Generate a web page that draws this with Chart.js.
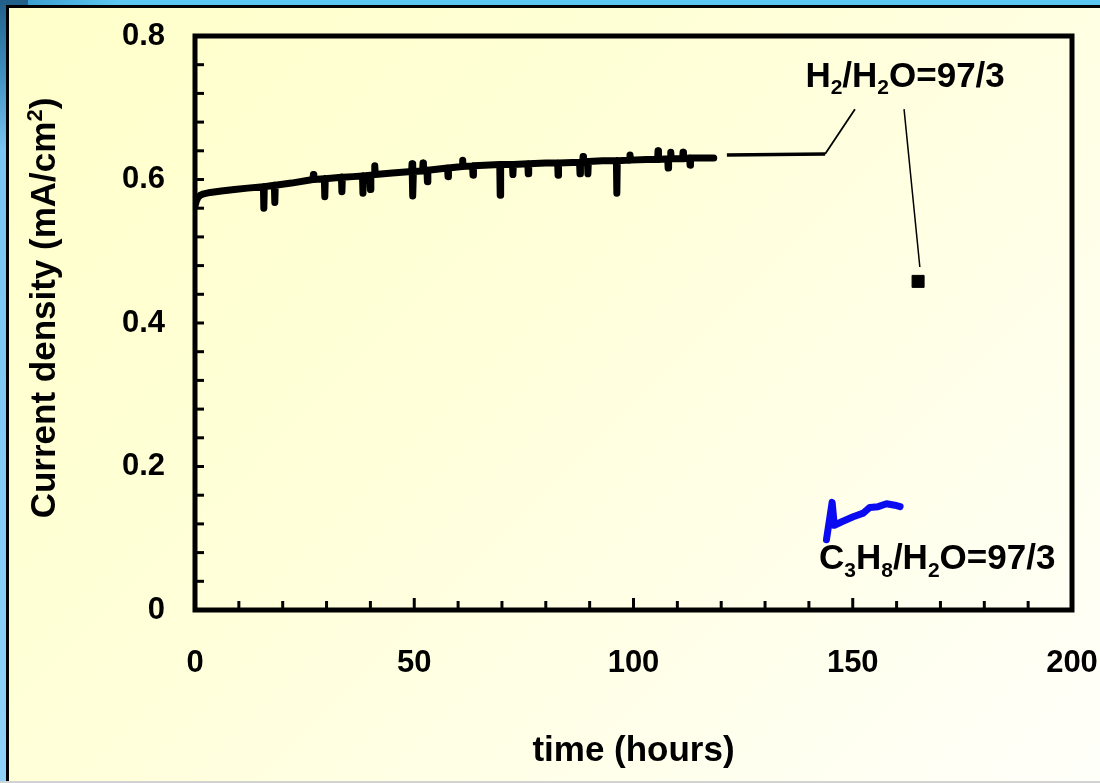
<!DOCTYPE html>
<html>
<head>
<meta charset="utf-8">
<title>Current density vs time</title>
<script src="https://cdn.jsdelivr.net/npm/chart.js@4.4.1/dist/chart.umd.min.js"></script>
<style>
  html, body { margin: 0; padding: 0; }
  body {
    width: 1100px; height: 783px; overflow: hidden; position: relative;
    background: linear-gradient(to bottom, #215f88 0px, #3d8dbd 70px, #79c4f1 150px, #8ed1fb 783px);
  }
  #topband {
    position: absolute; left: 28px; top: 0; width: 1072px; height: 6px;
    background: linear-gradient(to right, #3c9fd2 0px, #5cc7f1 90px, #5cc7f1 100%);
  }
  #slide {
    position: absolute; left: 6px; top: 5px; right: 0; bottom: 2px;
    border-left: 3px solid #000; border-top: 3px solid #000;
    background: linear-gradient(135deg, #ffffca 0%, #ffffd8 40%, #ffffec 75%, #fffffa 100%);
  }
  #bottomline { position: absolute; left: 0; bottom: 0; width: 1100px; height: 2px; background: #d2d2d2; }
  canvas { position: absolute; left: 0; top: 0; }
</style>
</head>
<body>
<div id="topband"></div>
<div id="slide"></div>
<div id="bottomline"></div>
<canvas id="chart" width="1100" height="783"></canvas>
<script>
// ---- Data -----------------------------------------------------------------
// Anode fed with H2/H2O = 97/3 (time in hours, current density in mA/cm2)
const h2Time = [
  0, 0.3, 0.7, 1.2, 2, 3.5, 6, 9, 12,
  15.6, 15.7, 15.8, 18.1, 18.2, 18.3, 22,
  26.9, 27.0, 27.1, 29.5, 29.6, 29.7, 33.4, 33.5, 33.6, 36,
  38.2, 38.3, 38.4, 39.9, 40.0, 40.1, 40.9, 41.0, 41.1, 45,
  49.4, 49.5, 49.6, 49.7, 49.8, 51.9, 52.0, 52.1, 52.9, 53.0, 53.1,
  57.6, 57.7, 57.8, 60.9, 61.0, 61.1, 63.3, 63.4, 63.5, 66,
  69.5, 69.6, 69.7, 72.4, 72.5, 72.6, 75.9, 76.0, 76.1, 80,
  82.7, 82.8, 82.9, 87.7, 87.8, 87.9, 88.4, 88.5, 88.6, 89.5, 89.6, 89.7, 93,
  96.1, 96.2, 96.3, 99.1, 99.2, 99.3, 103,
  105.5, 105.6, 105.7, 107.8, 107.9, 108.0, 108.4, 108.5, 108.6,
  111.2, 111.3, 111.4, 112.8, 112.9, 113.0, 116, 118.3
];
const h2Current = [
  0.563, 0.570, 0.575, 0.578, 0.580, 0.582, 0.584, 0.586, 0.588,
  0.590, 0.560, 0.590, 0.592, 0.568, 0.592, 0.595,
  0.600, 0.607, 0.600, 0.601, 0.576, 0.601, 0.603, 0.583, 0.603, 0.604,
  0.605, 0.581, 0.605, 0.606, 0.586, 0.606, 0.607, 0.619, 0.607, 0.609,
  0.611, 0.622, 0.611, 0.577, 0.611, 0.612, 0.623, 0.612, 0.613, 0.597, 0.613,
  0.616, 0.604, 0.616, 0.618, 0.627, 0.618, 0.619, 0.606, 0.619, 0.620,
  0.621, 0.578, 0.621, 0.621, 0.607, 0.621, 0.622, 0.608, 0.622, 0.623,
  0.623, 0.606, 0.623, 0.624, 0.608, 0.624, 0.624, 0.632, 0.624, 0.625, 0.608, 0.625, 0.626,
  0.626, 0.581, 0.626, 0.627, 0.634, 0.627, 0.628,
  0.628, 0.640, 0.628, 0.629, 0.616, 0.629, 0.629, 0.638, 0.629,
  0.629, 0.638, 0.629, 0.630, 0.620, 0.630, 0.630, 0.630
];

// Anode fed with C3H8/H2O = 97/3
const c3h8Time    = [144.0, 145.3, 145.8, 147.5, 150.1, 152.4, 153.9, 155.8, 157.7, 159.6, 160.8];
const c3h8Current = [0.098, 0.150, 0.118, 0.123, 0.130, 0.135, 0.143, 0.144, 0.148, 0.146, 0.144];

// Single marked point
const markTime    = [164.9];
const markCurrent = [0.458];

// Leader lines from the labels
const leaderOneTime    = [121.3, 143.7];
const leaderOneCurrent = [0.634, 0.6355];
const leaderTwoTime    = [143.7, 150.5];
const leaderTwoCurrent = [0.6355, 0.698];
const leaderThreeTime    = [161.7, 165.3];
const leaderThreeCurrent = [0.698, 0.478];

// Axis ticks
const xTickValues = [0, 50, 100, 150, 200];
const yTickValues = [0, 0.2, 0.4, 0.6, 0.8];
const xMinorStep = 10;
const yMinorStep = 0.04;

// Series labels (main text with subscripts)
const h2LabelParts   = [['H'], ['2', 'sub'], ['/H'], ['2', 'sub'], ['O=97/3']];
const c3h8LabelParts = [['C'], ['3', 'sub'], ['H'], ['8', 'sub'], ['/H'], ['2', 'sub'], ['O=97/3']];
const yTitleParts    = [['Current density (mA/cm'], ['2', 'sup'], [')']];
const xTitleText     = 'time (hours)';

// ---- Helpers ----------------------------------------------------------------
const SANS = '"Liberation Sans", Arial, sans-serif';
const toPoints = (xs, ys) => xs.map((x, i) => ({ x: x, y: ys[i] }));

function richFont(kind, size) {
  if (kind === 'sub') return 'bold ' + Math.round(size * 0.6) + 'px ' + SANS;
  if (kind === 'sup') return 'bold ' + Math.round(size * 0.64) + 'px ' + SANS;
  return 'bold ' + size + 'px ' + SANS;
}
function richWidth(ctx, parts, size) {
  let w = 0;
  parts.forEach(p => { ctx.font = richFont(p[1], size); w += ctx.measureText(p[0]).width; });
  return w;
}
function drawRich(ctx, parts, x, y, size) {
  let cx = x;
  ctx.textBaseline = 'alphabetic';
  ctx.textAlign = 'left';
  parts.forEach(p => {
    ctx.font = richFont(p[1], size);
    let dy = 0;
    if (p[1] === 'sub') dy = size * 0.21;
    if (p[1] === 'sup') dy = -size * 0.36;
    ctx.fillText(p[0], cx, y + dy);
    cx += ctx.measureText(p[0]).width;
  });
}

// Box around the plot, inward tick marks, series labels and the y title
const chartDecor = {
  id: 'chartDecor',
  afterDraw(chart) {
    const { ctx, chartArea: a, scales: { x, y } } = chart;
    ctx.save();
    ctx.strokeStyle = '#000';
    ctx.fillStyle = '#000';
    ctx.lineCap = 'butt';
    ctx.lineWidth = 3;

    const nx = Math.round((x.max - x.min) / xMinorStep);
    for (let i = 0; i <= nx; i++) {
      const v = x.min + i * xMinorStep;
      const px = x.getPixelForValue(v);
      const len = xTickValues.some(t => Math.abs(t - v) < 1e-9) ? 12 : 9;
      ctx.beginPath(); ctx.moveTo(px, a.bottom); ctx.lineTo(px, a.bottom - len); ctx.stroke();
    }
    const ny = Math.round((y.max - y.min) / yMinorStep);
    for (let i = 0; i <= ny; i++) {
      const v = y.min + i * yMinorStep;
      const py = y.getPixelForValue(v);
      ctx.beginPath(); ctx.moveTo(a.left, py); ctx.lineTo(a.left + 9, py); ctx.stroke();
    }

    ctx.lineWidth = 5;
    ctx.strokeRect(a.left, a.top, a.right - a.left, a.bottom - a.top);

    // series labels
    drawRich(ctx, h2LabelParts, x.getPixelForValue(139.2), y.getPixelForValue(0.7293), 35);
    drawRich(ctx, c3h8LabelParts, x.getPixelForValue(142.3), y.getPixelForValue(0.0567), 35);

    // y-axis title, rotated
    const size = 35;
    const w = richWidth(ctx, yTitleParts, size);
    ctx.translate(42, (a.top + a.bottom) / 2 - 15);
    ctx.rotate(-Math.PI / 2);
    drawRich(ctx, yTitleParts, -w / 2, 13, size);
    ctx.restore();
  }
};

// ---- Chart ------------------------------------------------------------------
const lineStyle = { pointRadius: 0, tension: 0, borderJoinStyle: 'round', borderCapStyle: 'round', fill: false };
const tickFont = { family: SANS, weight: 'bold', size: 31 };

new Chart(document.getElementById('chart'), {
  type: 'line',
  data: {
    datasets: [
      Object.assign({ label: 'H2/H2O=97/3', data: toPoints(h2Time, h2Current), borderColor: '#000', borderWidth: 7 }, lineStyle),
      Object.assign({ label: 'C3H8/H2O=97/3', data: toPoints(c3h8Time, c3h8Current), borderColor: '#0b0bf2', borderWidth: 7 }, lineStyle),
      Object.assign({ label: 'leader 1', data: toPoints(leaderOneTime, leaderOneCurrent), borderColor: '#000', borderWidth: 3.5 }, lineStyle, { borderCapStyle: 'butt' }),
      Object.assign({ label: 'leader 2', data: toPoints(leaderTwoTime, leaderTwoCurrent), borderColor: '#000', borderWidth: 1.8 }, lineStyle, { borderCapStyle: 'butt' }),
      Object.assign({ label: 'leader 3', data: toPoints(leaderThreeTime, leaderThreeCurrent), borderColor: '#000', borderWidth: 1.5 }, lineStyle, { borderCapStyle: 'butt' }),
      {
        type: 'scatter', label: 'point', data: toPoints(markTime, markCurrent),
        pointStyle: 'rect', pointRadius: 8.5, backgroundColor: '#000', borderColor: '#000', borderWidth: 1
      }
    ]
  },
  options: {
    responsive: false,
    animation: false,
    devicePixelRatio: 1,
    layout: { padding: { left: 0, right: 28, top: 36, bottom: 0 } },
    plugins: { legend: { display: false }, tooltip: { enabled: false } },
    scales: {
      x: {
        type: 'linear', min: 0, max: 200,
        afterBuildTicks(s) { s.ticks = xTickValues.map(v => ({ value: v })); },
        ticks: { color: '#000', font: tickFont, padding: 35, maxRotation: 0, autoSkip: false },
        grid: { display: false, drawTicks: false },
        border: { display: false },
        title: { display: true, text: xTitleText, color: '#000', font: { family: SANS, weight: 'bold', size: 35 }, padding: { top: 0, bottom: 11 } },
        afterFit(s) { s.height = 173; s.paddingLeft = 0; s.paddingRight = 0; }
      },
      y: {
        type: 'linear', min: 0, max: 0.8,
        afterBuildTicks(s) { s.ticks = yTickValues.map(v => ({ value: v })); },
        ticks: { color: '#000', font: tickFont, padding: 30, autoSkip: false },
        grid: { display: false, drawTicks: false },
        border: { display: false },
        afterFit(s) { s.width = 195; s.paddingTop = 0; s.paddingBottom = 0; }
      }
    }
  },
  plugins: [chartDecor]
});
</script>
</body>
</html>
